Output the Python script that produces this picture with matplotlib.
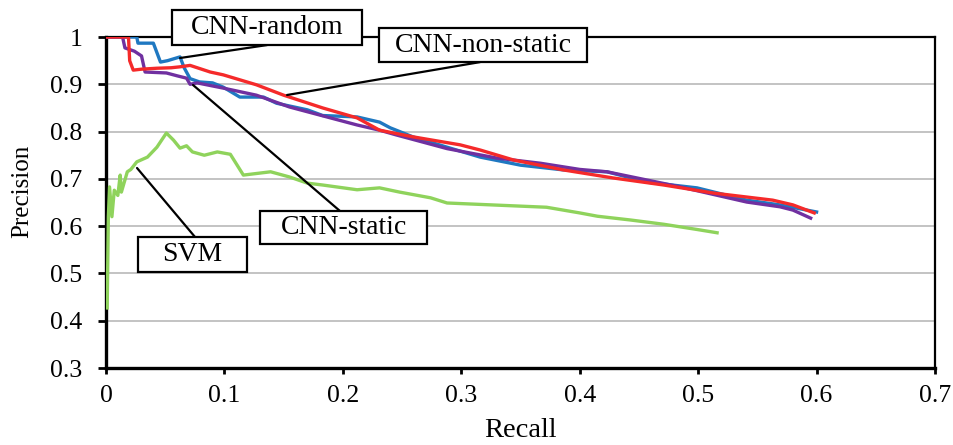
import matplotlib
matplotlib.use("Agg")
import matplotlib.pyplot as plt
from matplotlib.patches import Rectangle

plt.rcParams["font.family"] = ["Liberation Serif", "DejaVu Serif"]

# ---- curvas precision/recall ----
rnd_recall = [0, 0.026, 0.027, 0.040, 0.046, 0.052, 0.0625, 0.066, 0.071, 0.079, 0.090,
              0.099, 0.113, 0.133, 0.144, 0.170, 0.183, 0.212, 0.231, 0.240, 0.259,
              0.288, 0.316, 0.350, 0.386, 0.423, 0.457, 0.499, 0.541, 0.569, 0.600]
rnd_prec = [1.0, 1.0, 0.987, 0.987, 0.947, 0.950, 0.958, 0.935, 0.912, 0.905, 0.903,
            0.894, 0.873, 0.873, 0.860, 0.846, 0.834, 0.831, 0.820, 0.808, 0.789,
            0.767, 0.746, 0.729, 0.719, 0.715, 0.693, 0.681, 0.655, 0.645, 0.630]

nonstatic_recall = [0, 0.019, 0.020, 0.023, 0.030, 0.043, 0.055, 0.0625, 0.071, 0.088,
                    0.099, 0.127, 0.150, 0.183, 0.212, 0.231, 0.259, 0.299, 0.316, 0.344,
                    0.386, 0.428, 0.471, 0.513, 0.563, 0.580, 0.598]
nonstatic_prec = [1.0, 1.0, 0.950, 0.930, 0.932, 0.934, 0.935, 0.937, 0.940, 0.926,
                  0.920, 0.899, 0.877, 0.850, 0.829, 0.803, 0.789, 0.772, 0.761, 0.740,
                  0.719, 0.702, 0.687, 0.670, 0.655, 0.645, 0.628]

static_recall = [0, 0.014, 0.016, 0.024, 0.030, 0.033, 0.051, 0.060, 0.068, 0.071,
                 0.077, 0.099, 0.127, 0.155, 0.212, 0.231, 0.245, 0.288, 0.330, 0.367,
                 0.400, 0.423, 0.485, 0.541, 0.569, 0.580, 0.595]
static_prec = [1.0, 1.0, 0.977, 0.970, 0.960, 0.926, 0.924, 0.918, 0.913, 0.900,
               0.903, 0.892, 0.877, 0.852, 0.814, 0.803, 0.793, 0.764, 0.744, 0.733,
               0.720, 0.715, 0.683, 0.651, 0.641, 0.634, 0.617]

svm_recall = [0.001, 0.002, 0.003, 0.005, 0.007, 0.010, 0.012, 0.013, 0.018, 0.021,
              0.026, 0.035, 0.043, 0.051, 0.057, 0.0625, 0.068, 0.073, 0.083, 0.094,
              0.105, 0.116, 0.139, 0.155, 0.170, 0.183, 0.212, 0.231, 0.248, 0.274,
              0.288, 0.316, 0.344, 0.372, 0.400, 0.415, 0.443, 0.471, 0.499, 0.516]
svm_prec = [0.427, 0.620, 0.683, 0.620, 0.676, 0.665, 0.708, 0.672, 0.715, 0.720,
            0.736, 0.746, 0.767, 0.797, 0.782, 0.765, 0.770, 0.757, 0.750, 0.757,
            0.752, 0.708, 0.715, 0.704, 0.691, 0.687, 0.677, 0.681, 0.672, 0.660,
            0.649, 0.646, 0.643, 0.640, 0.628, 0.621, 0.613, 0.604, 0.593, 0.586]

x_ticks = [0, 0.1, 0.2, 0.3, 0.4, 0.5, 0.6, 0.7]
x_labels = ["0", "0.1", "0.2", "0.3", "0.4", "0.5", "0.6", "0.7"]
y_ticks = [0.3, 0.4, 0.5, 0.6, 0.7, 0.8, 0.9, 1.0]
y_labels = ["0.3", "0.4", "0.5", "0.6", "0.7", "0.8", "0.9", "1"]

fig = plt.figure(figsize=(9.54, 4.45), dpi=100)
ax = fig.add_axes([0.1111, 0.1730, 0.8690, 0.7438])

ax.plot(svm_recall, svm_prec, color="#8fd35c", lw=2.4, zorder=3)
ax.plot(rnd_recall, rnd_prec, color="#1f78c1", lw=2.4, zorder=4)
ax.plot(static_recall, static_prec, color="#7030a0", lw=2.4, zorder=5)
ax.plot(nonstatic_recall, nonstatic_prec, color="#f52a2a", lw=2.4, zorder=6)

ax.set_xlim(0, 0.7)
ax.set_ylim(0.3, 1.0)
ax.set_xticks(x_ticks)
ax.set_xticklabels(x_labels)
ax.set_yticks(y_ticks)
ax.set_yticklabels(y_labels)
ax.tick_params(axis="both", direction="out", width=2, labelsize=18.5)
ax.tick_params(axis="y", length=6, pad=11)
ax.tick_params(axis="x", length=4, pad=8)
ax.yaxis.grid(True, color="#b3b3b3", lw=1.1)
ax.set_axisbelow(True)

for s in ("left", "bottom"):
    ax.spines[s].set_linewidth(2.4)
for s in ("top", "right"):
    ax.spines[s].set_linewidth(1.6)

ax.set_xlabel("Recall", fontsize=20.5, labelpad=8)
ax.set_ylabel("Precision", fontsize=18)
ax.yaxis.set_label_coords(-0.088, 0.535)

# ---- caixas de rótulo (x0, x1, y0, y1), linha (ponto na caixa -> ponto na curva) ----
labels = [
    ("CNN-random", (0.0557, 0.2162, 0.9831, 1.0571), (0.136, 0.983), (0.0625, 0.9556)),
    ("CNN-non-static", (0.2306, 0.4062, 0.9471, 1.0190), (0.3159, 0.947), (0.1529, 0.8774)),
    ("CNN-static", (0.1301, 0.2711, 0.5624, 0.6321), (0.1976, 0.632), (0.0735, 0.8985)),
    ("SVM", (0.0270, 0.1191, 0.5032, 0.5772), (0.0752, 0.577), (0.0262, 0.723)),
]
for txt, (x0, x1, y0, y1), p_box, p_tip in labels:
    ax.add_patch(Rectangle((x0, y0), x1 - x0, y1 - y0, facecolor="white",
                           edgecolor="black", lw=1.6, clip_on=False, zorder=9))
    ax.text((x0 + x1) / 2, (y0 + y1) / 2, txt, ha="center", va="center",
            fontsize=20, zorder=10, clip_on=False)
    ax.annotate("", xy=p_tip, xytext=p_box, annotation_clip=False,
                arrowprops=dict(arrowstyle="-", color="black", lw=1.6,
                                shrinkA=0, shrinkB=0), zorder=8)

fig.savefig("out.png", dpi=100)
